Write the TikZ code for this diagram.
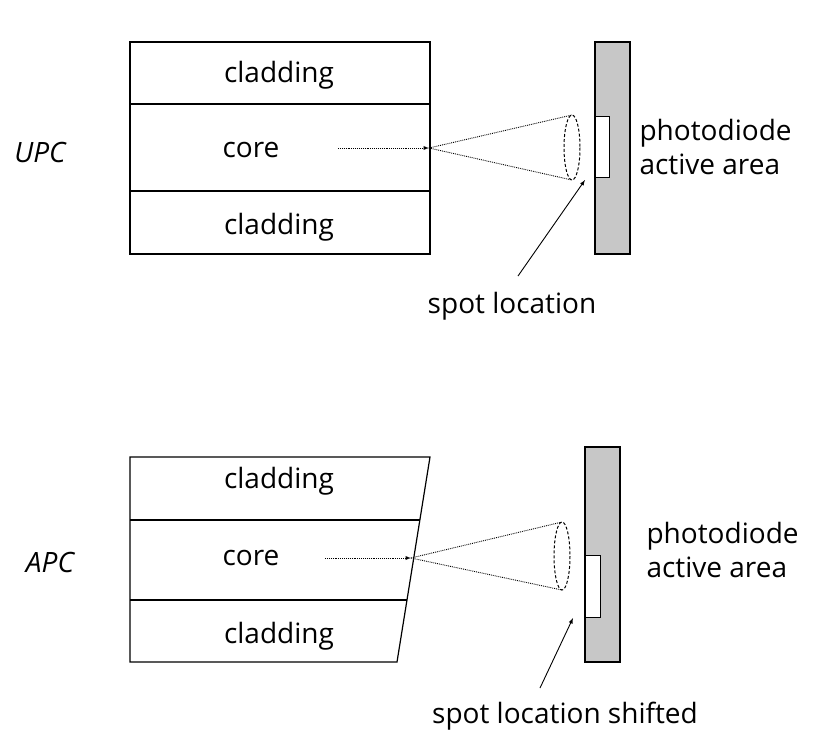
\documentclass[tikz,border=0pt]{standalone}
\usepackage{fontspec}
\setmainfont{Open Sans}
\begin{document}
\begin{tikzpicture}[x=1pt,y=-1pt,
  lbl/.style={font=\fontsize{28}{34}\selectfont},
  box/.style={draw,line width=1.2pt},
  dot/.style={densely dotted,line width=0.9pt},
  arr/.style={-latex,line width=0.9pt}]
\useasboundingbox (0,0) rectangle (820,748);
% UPC
\draw[box] (130,42) rectangle (430,254);
\draw[box] (130,104) -- (430,104) (130,191) -- (430,191);
\node[lbl] (c1) at (279,75) {cladding};
\node[lbl] (k1) at (251,150) {core};
\node[lbl] (c2) at (279,227) {cladding};
\node[lbl,font=\fontsize{28}{34}\selectfont\itshape] (u) at (40,152) {UPC};
\draw[box,fill=black!22] (595,42) rectangle (630,254);
\draw[line width=1pt,fill=white] (595,116) rectangle (609,177);
\coordinate (f1) at (429,148);
\draw[dot,-latex] (338,148) -- (f1);
\draw[densely dashed,line width=1pt] (572,147.5) ellipse [x radius=8,y radius=32.5];
\draw[dot] (f1) -- (572,115) (f1) -- (572,180);
\node[lbl,align=left,anchor=west] (p1) at (636,147) {photodiode\\active area};
\node[lbl] (s1) at (512,306) {spot location};
\coordinate (t1) at (585,180);
\draw[arr] (518,276) -- (t1);
% APC
\draw[box] (130,457) -- (430,457) -- (397,662) -- (130,662) -- cycle;
\draw[box] (130,520) -- (420,520) (130,600) -- (407,600);
\node[lbl] (c3) at (279,481) {cladding};
\node[lbl] (k2) at (251,558) {core};
\node[lbl] (c4) at (279,636) {cladding};
\node[lbl,font=\fontsize{28}{34}\selectfont\itshape] (a) at (50,562) {APC};
\draw[box,fill=black!22] (585,447) rectangle (620,662);
\draw[line width=1pt,fill=white] (585,555) rectangle (600,617);
\coordinate (f2) at (411,558);
\draw[dot,-latex] (325,558) -- (f2);
\draw[densely dashed,line width=1pt] (562,556) ellipse [x radius=8,y radius=34];
\draw[dot] (f2) -- (562,522) (f2) -- (562,590);
\node[lbl,align=left,anchor=west] (p2) at (643,550) {photodiode\\active area};
\node[lbl] (s2) at (565,716) {spot location shifted};
\coordinate (t2) at (573,618);
\draw[arr] (540,688) -- (t2);
\end{tikzpicture}
\end{document}
